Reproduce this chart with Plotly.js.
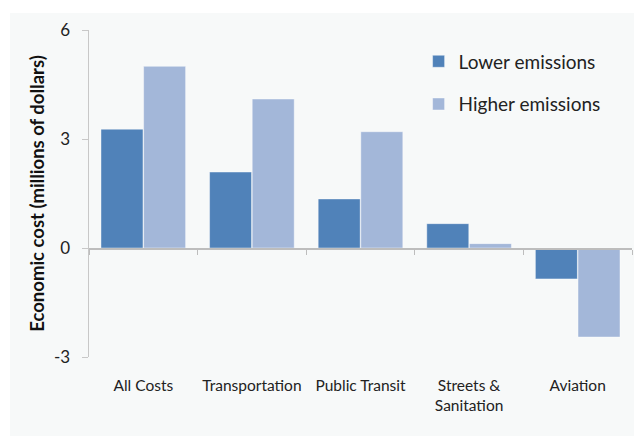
<!DOCTYPE html>
<html>
<head>
<meta charset="utf-8">
<script src="https://cdn.plot.ly/plotly-3.0.1.min.js"></script>
<style>html,body{margin:0;padding:0;background:#fff;}#chart{width:634px;height:436px;}</style>
</head>
<body>
<div id="chart"></div>
<script>
const categories = ["All Costs", "Transportation", "Public Transit", "Streets &<br>Sanitation", "Aviation"];
const lowerEmissions = [3.27, 2.09, 1.35, 0.67, -0.85];
const higherEmissions = [5.0, 4.10, 3.20, 0.12, -2.45];
const yTicks = [-3, 0, 3, 6];
const yTickText = ["-3", "0", "3", "6"];

const FONT = "Lato, 'Open Sans', sans-serif";
const PANEL = "rgb(247,249,249)";

const traces = [
  {type: "bar", name: "Lower emissions", x: categories, y: lowerEmissions,
   legendgroup: "a",
   marker: {color: "rgb(80,130,185)", line: {color: "rgba(255,255,255,0.7)", width: 0.6}}},
  {type: "bar", name: "Higher emissions", x: categories, y: higherEmissions,
   legendgroup: "b",
   marker: {color: "rgb(163,183,217)", line: {color: "rgba(255,255,255,0.7)", width: 0.6}}}
];

const layout = {
  width: 634, height: 436,
  margin: {l: 89, r: 2, t: 30, b: 79},
  paper_bgcolor: "#ffffff",
  plot_bgcolor: PANEL,
  font: {family: FONT, color: "#222"},
  barmode: "group",
  bargap: 0.215,
  bargroupgap: 0.015,
  showlegend: true,
  legend: {
    x: 0.607, y: 0.962, xanchor: "left", yanchor: "top",
    bgcolor: "rgba(0,0,0,0)",
    font: {size: 19, family: FONT, color: "#222"},
    traceorder: "grouped", tracegroupgap: 15
  },
  xaxis: {
    type: "category",
    anchor: "free", position: 1/3,
    showline: true, linecolor: "#bdbdbd", linewidth: 1.5,
    ticks: "outside", tickson: "boundaries", ticklen: 5, tickcolor: "#bdbdbd",
    showgrid: false, zeroline: false,
    tickfont: {size: 15.5, family: FONT, color: "#222"},
    ticklabelstandoff: 123,
    fixedrange: true
  },
  yaxis: {
    range: [-3, 6],
    tickvals: yTicks,
    ticktext: yTickText,
    showline: true, linecolor: "#c8c8c8", linewidth: 1.5,
    ticks: "outside", ticklen: 6, tickcolor: "#c8c8c8",
    showgrid: false, zeroline: false,
    tickfont: {size: 17, family: FONT, color: "#222"},
    ticklabelstandoff: 8,
    title: {text: "<b>Economic cost (millions of dollars)</b>", font: {size: 18.5, family: FONT, color: "#111"}, standoff: 4},
    automargin: false,
    fixedrange: true
  },
  shapes: [
    {type: "rect", xref: "paper", yref: "paper", x0: -0.1455, x1: 1.1, y0: -0.5, y1: 1.052,
     fillcolor: PANEL, line: {width: 0}, layer: "below"}
  ]
};

Plotly.newPlot("chart", traces, layout, {displayModeBar: false, staticPlot: true});
</script>
</body>
</html>
